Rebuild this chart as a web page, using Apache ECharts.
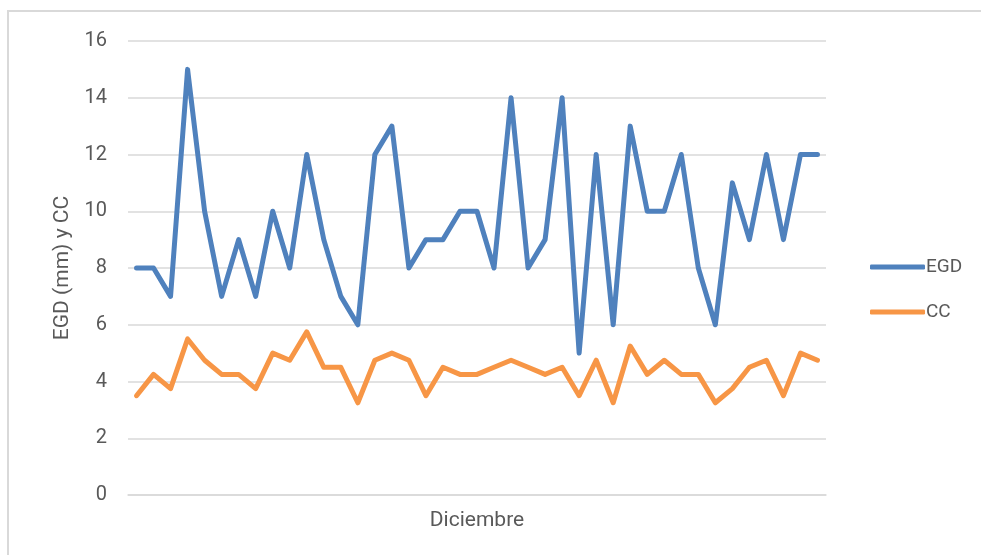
<!DOCTYPE html>
<html>
<head>
<meta charset="utf-8">
<script src="https://cdn.jsdelivr.net/npm/echarts@6/dist/echarts.min.js"></script>
<style>
  html, body { margin: 0; padding: 0; background: #fff; }
  #frame { position: absolute; left: 7px; top: 10px; width: 990px; height: 560px; border-top: 2px solid #d9d9d9; border-left: 2px solid #d9d9d9; }
  #chart { position: absolute; left: 0; top: 0; width: 981px; height: 555px; }
</style>
</head>
<body>
<div id="frame"></div>
<div id="chart"></div>
<script>
const categories = Array.from({ length: 41 }, (_, i) => String(i + 1))
const egd = [8, 8, 7, 15, 10, 7, 9, 7, 10, 8, 12, 9, 7, 6, 12, 13, 8, 9, 9, 10, 10, 8, 14, 8, 9, 14, 5, 12, 6, 13, 10, 10, 12, 8, 6, 11, 9, 12, 9, 12, 12]
const cc = [3.5, 4.25, 3.75, 5.5, 4.75, 4.25, 4.25, 3.75, 5, 4.75, 5.75, 4.5, 4.5, 3.25, 4.75, 5, 4.75, 3.5, 4.5, 4.25, 4.25, 4.5, 4.75, 4.5, 4.25, 4.5, 3.5, 4.75, 3.25, 5.25, 4.25, 4.75, 4.25, 4.25, 3.25, 3.75, 4.5, 4.75, 3.5, 5, 4.75]

const font = 'Roboto, "Liberation Sans", sans-serif'
const textGrey = '#595959'

const chart = echarts.init(document.getElementById('chart'))
chart.setOption({
  animation: false,
  textStyle: { fontFamily: font },
  grid: { left: 128, right: 155, top: 41, bottom: 60, containLabel: false },
  legend: {
    orient: 'vertical',
    left: 865, top: 251,
    itemWidth: 55, itemHeight: 5, itemGap: 23,
    icon: 'roundRect',
    textStyle: { fontSize: 19, color: textGrey, fontFamily: font, lineHeight: 22, padding: [0, 0, 0, -4] },
    data: ['EGD', 'CC']
  },
  xAxis: {
    type: 'category',
    data: categories,
    boundaryGap: true,
    name: 'Diciembre',
    nameLocation: 'middle',
    nameGap: 15,
    nameTextStyle: { fontSize: 21, color: textGrey },
    axisLine: { lineStyle: { color: '#d9d9d9', width: 1.5 } },
    axisTick: { show: false },
    axisLabel: { show: false }
  },
  yAxis: {
    type: 'value',
    min: 0, max: 16, interval: 2,
    name: 'EGD (mm) y CC',
    nameLocation: 'middle',
    nameGap: 55,
    nameTextStyle: { fontSize: 21, color: textGrey },
    axisLabel: { fontSize: 20, color: textGrey, margin: 21 },
    axisLine: { show: false },
    axisTick: { show: false },
    splitLine: { lineStyle: { color: '#d9d9d9', width: 1.5 } }
  },
  series: [
    {
      name: 'EGD', type: 'line', data: egd,
      symbol: 'none',
      itemStyle: { color: '#4f81bd' },
      lineStyle: { color: '#4f81bd', width: 5, join: 'round', cap: 'round' }
    },
    {
      name: 'CC', type: 'line', data: cc,
      symbol: 'none',
      itemStyle: { color: '#f79646' },
      lineStyle: { color: '#f79646', width: 5, join: 'round', cap: 'round' }
    }
  ]
})
</script>
</body>
</html>
